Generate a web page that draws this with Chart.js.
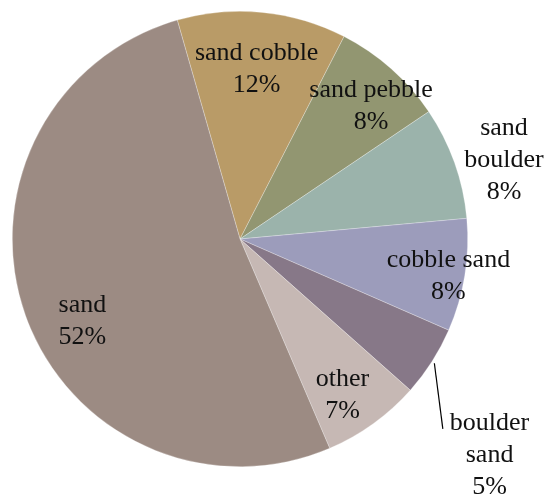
<!DOCTYPE html>
<html>
<head>
<meta charset="utf-8">
<script src="https://cdn.jsdelivr.net/npm/chart.js@4"></script>
<style>
  html, body { margin: 0; padding: 0; background: #fff; }
  #wrap { width: 548px; height: 498px; }
</style>
</head>
<body>
<div id="wrap"><canvas id="pieChart"></canvas></div>
<script>
// Sediment class shares (%)
const categories = ['sand cobble', 'sand pebble', 'sand boulder', 'cobble sand', 'boulder sand', 'other', 'sand'];
const shares = [12, 8, 8, 8, 5, 7, 52];
const sliceColors = ['#B99B67', '#929671', '#9BB3AB', '#9C9CBB', '#877888', '#C6B8B4', '#9C8B83'];

// label lines per slice (name split where it wraps)
const labelLines = [
    ['sand cobble', '12%'],
    ['sand pebble', '8%'],
    ['sand', 'boulder', '8%'],
    ['cobble sand', '8%'],
    ['boulder', 'sand', '5%'],
    ['other', '7%'],
    ['sand', '52%']
];

// where each label sits: angle shift (deg) from slice middle, radius factor
const labelPlace = [
    { dAng: 0, rf: 0.75 },
    { dAng: 3, rf: 0.82 },
    { dAng: 3, rf: 1.21 },
    { dAng: 1, rf: 0.93 },
    { dAng: 8.3, rf: 1.45, leader: true },
    { dAng: 2.5, rf: 0.82 },
    { dAng: -8, rf: 0.78, left: true }
];

const pieLabels = {
    id: 'pieLabels',
    afterDatasetsDraw(chart) {
        const ctx = chart.ctx;
        const meta = chart.getDatasetMeta(0);
        ctx.save();
        ctx.font = '26px "Liberation Serif", "Times New Roman", serif';
        ctx.fillStyle = '#111';
        ctx.textBaseline = 'middle';
        const lineH = 32;
        meta.data.forEach((arc, i) => {
            const p = arc.getProps(['x', 'y', 'startAngle', 'endAngle', 'outerRadius'], true);
            const mid = (p.startAngle + p.endAngle) / 2;
            const place = labelPlace[i];
            const a = mid + place.dAng * Math.PI / 180;
            const lx = p.x + Math.cos(a) * p.outerRadius * place.rf;
            const ly = p.y + Math.sin(a) * p.outerRadius * place.rf;
            if (place.leader) {
                const a2 = mid + 10.5 * Math.PI / 180;
                ctx.beginPath();
                ctx.strokeStyle = '#000';
                ctx.lineWidth = 1.2;
                ctx.moveTo(p.x + Math.cos(mid) * (p.outerRadius + 3), p.y + Math.sin(mid) * (p.outerRadius + 3));
                ctx.lineTo(p.x + Math.cos(a2) * p.outerRadius * 1.22, p.y + Math.sin(a2) * p.outerRadius * 1.22);
                ctx.stroke();
            }
            const lines = labelLines[i];
            const top = ly - (lines.length - 1) * lineH / 2;
            ctx.textAlign = place.left ? 'left' : 'center';
            const x0 = place.left ? lx - 24 : lx;
            lines.forEach((t, k) => ctx.fillText(t, x0, top + k * lineH));
        });
        ctx.restore();
    }
};

new Chart(document.getElementById('pieChart'), {
    type: 'pie',
    data: {
        labels: categories,
        datasets: [{
            data: shares,
            backgroundColor: sliceColors,
            borderColor: 'rgba(255,255,255,0.45)',
            borderWidth: 0.6
        }]
    },
    options: {
        responsive: true,
        maintainAspectRatio: false,
        animation: false,
        rotation: -16,
        layout: {
            padding: { left: 12, top: 11, right: 80, bottom: 31 }
        },
        plugins: {
            legend: { display: false },
            tooltip: { enabled: false }
        }
    },
    plugins: [pieLabels]
});
</script>
</body>
</html>
